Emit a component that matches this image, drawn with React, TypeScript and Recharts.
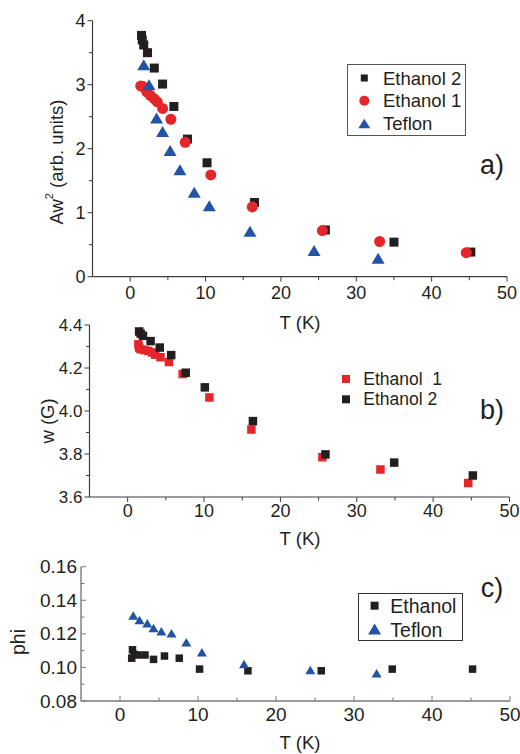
import React from 'react';
import { ScatterChart, Scatter, XAxis, YAxis, Legend, Label } from 'recharts';

// panel a) Aw^2 vs T
const eth2T = [1.5, 1.6, 1.8, 2.3, 3.2, 4.3, 5.8, 7.6, 10.2, 16.5, 25.9, 35.0, 45.2];
const eth2A = [3.77, 3.7, 3.62, 3.5, 3.26, 3.01, 2.66, 2.15, 1.78, 1.16, 0.73, 0.54, 0.385];
const eth1T = [1.4, 1.7, 2.2, 2.7, 3.2, 3.6, 4.3, 5.4, 7.3, 10.7, 16.2, 25.5, 33.1, 44.6];
const eth1A = [2.98, 2.97, 2.89, 2.83, 2.78, 2.73, 2.63, 2.46, 2.1, 1.59, 1.09, 0.72, 0.55, 0.375];
const teflonT = [1.8, 2.5, 3.5, 4.3, 5.3, 6.6, 8.5, 10.5, 15.9, 24.4, 32.9];
const teflonA = [3.31, 3.0, 2.48, 2.27, 1.97, 1.67, 1.32, 1.11, 0.71, 0.41, 0.29];

// panel b) linewidth w (G)
const wEth1T = [1.4, 1.5, 1.7, 2.2, 2.7, 3.2, 3.6, 4.3, 5.4, 7.2, 10.7, 16.2, 25.5, 33.1, 44.6];
const wEth1 = [4.31, 4.295, 4.287, 4.283, 4.279, 4.272, 4.262, 4.25, 4.228, 4.172, 4.063, 3.914, 3.785, 3.728, 3.665];
const wEth2T = [1.5, 1.7, 2.0, 3.0, 4.2, 5.7, 7.6, 10.1, 16.4, 25.9, 34.9, 45.2];
const wEth2 = [4.37, 4.36, 4.35, 4.325, 4.295, 4.26, 4.178, 4.11, 3.953, 3.798, 3.76, 3.7];

// panel c) phi
const phiEthT = [1.5, 1.6, 1.8, 2.3, 3.2, 4.3, 5.7, 7.6, 10.2, 16.4, 25.8, 34.9, 45.2];
const phiEth = [0.1055, 0.1105, 0.1078, 0.1074, 0.1074, 0.1048, 0.1068, 0.1055, 0.099, 0.098, 0.098, 0.099, 0.099];
const phiTefT = [1.7, 2.5, 3.5, 4.3, 5.3, 6.6, 8.5, 10.5, 15.9, 24.4, 32.9];
const phiTef = [0.131, 0.1283, 0.1263, 0.1235, 0.1215, 0.1203, 0.115, 0.109, 0.102, 0.0985, 0.0965];

const tTicks = [0, 5, 10, 15, 20, 25, 30, 35, 40, 45, 50];
const tLabels = [0, 10, 20, 30, 40, 50];
const aTicks = [0, 0.5, 1, 1.5, 2, 2.5, 3, 3.5, 4];
const aLabels = [0, 1, 2, 3, 4];
const wTicks = [3.6, 3.7, 3.8, 3.9, 4.0, 4.1, 4.2, 4.3, 4.4];
const wLabels = [3.6, 3.8, 4.0, 4.2, 4.4];
const phiTicks = [0.08, 0.09, 0.1, 0.11, 0.12, 0.13, 0.14, 0.15, 0.16];
const phiLabels = [0.08, 0.1, 0.12, 0.14, 0.16];

const legendA = ['Ethanol 2', 'Ethanol 1', 'Teflon'];
const legendB = ['Ethanol  1', 'Ethanol 2'];
const legendC = ['Ethanol', 'Teflon'];

const W = 520;
const H = 754;
const YW = 60; // y axis band width
const XH = 30; // x axis band height
const FONT = '"Liberation Sans", Arial, Helvetica, sans-serif';
const INK = '#231f20';
const AXIS = '#3c3c3c';
const AXIS_C = '#7a7a7a';
const RED = '#e4262b';
const BLUE = '#2353a4';

const pts = (xs: number[], ys: number[]) => xs.map((x, i) => ({ x, y: ys[i] }));

const square = (s: number, fill: string) => (p: any) => (
  <rect x={p.cx - s / 2} y={p.cy - s / 2} width={s} height={s} fill={fill} />
);
const circle = (r: number, fill: string) => (p: any) => <circle cx={p.cx} cy={p.cy} r={r} fill={fill} />;
const triangle = (w: number, h: number, fill: string) => (p: any) => (
  <polygon
    points={`${p.cx},${p.cy - h / 2} ${p.cx - w / 2},${p.cy + h / 2} ${p.cx + w / 2},${p.cy + h / 2}`}
    fill={fill}
  />
);

// dir = 1: ticks point out of the plot, -1: into the plot
const xTick = (labels: number[], gap: number, size: number, dir = 1, color = AXIS) => (p: any) => {
  const v = p.payload.value;
  const major = labels.includes(v);
  return (
    <g>
      <line x1={p.x} x2={p.x} y1={p.y} y2={p.y + dir * (major ? 5 : 3.5)} stroke={color} strokeWidth={1} />
      {major && (
        <text x={p.x} y={p.y + gap} textAnchor="middle" dominantBaseline="central" fontSize={size} fontFamily={FONT} fill={INK}>
          {v}
        </text>
      )}
    </g>
  );
};

const yTick = (labels: number[], digits: number, gap: number, size: number, dir = 1, color = AXIS) => (p: any) => {
  const v = p.payload.value;
  const major = labels.includes(v);
  return (
    <g>
      <line x1={p.x} x2={p.x - dir * (major ? 5 : 3.5)} y1={p.y} y2={p.y} stroke={color} strokeWidth={1} />
      {major && (
        <text x={p.x - gap} y={p.y} textAnchor="end" dominantBaseline="central" fontSize={size} fontFamily={FONT} fill={INK}>
          {v.toFixed(digits)}
        </text>
      )}
    </g>
  );
};

const txt = (x: number, y: number, s: string, size: number, rotate = false) => () => (
  <text
    x={x}
    y={y}
    transform={rotate ? `rotate(-90 ${x} ${y})` : undefined}
    textAnchor="middle"
    dominantBaseline="central"
    fontSize={size}
    fontFamily={FONT}
    fill={INK}
  >
    {s}
  </text>
);

const axisLine = { stroke: AXIS, strokeWidth: 1.2 };
const axisLineC = { stroke: AXIS_C, strokeWidth: 1.4 };

const legendAContent = () => (
  <svg width={120} height={72}>
    <rect x={0.5} y={0.5} width={118} height={71} fill="#fff" stroke="#555" />
    <rect x={13.8} y={10.5} width={7} height={7} fill={INK} />
    <circle cx={17.3} cy={36.7} r={5} fill={RED} />
    <polygon points="17.3,54.7 11.3,64.2 23.3,64.2" fill={BLUE} />
    {legendA.map((s, i) => (
      <text key={s} x={36} y={14 + i * 22.8} dominantBaseline="central" fontSize={18.5} fontFamily={FONT} fill={INK}>
        {s}
      </text>
    ))}
  </svg>
);

const legendBContent = () => (
  <svg width={120} height={42}>
    <rect x={4} y={7} width={8} height={8} fill={RED} />
    <rect x={4} y={27.3} width={8} height={8} fill={INK} />
    {legendB.map((s, i) => (
      <text key={s} x={25.3} y={11 + i * 20.3} dominantBaseline="central" fontSize={17.5} fontFamily={FONT} fill={INK} style={{ whiteSpace: 'pre' }}>
        {s}
      </text>
    ))}
  </svg>
);

const legendCContent = () => (
  <svg width={106} height={49}>
    <rect x={0.5} y={0.5} width={104} height={47} fill="#fff" stroke="#333" />
    <rect x={12.6} y={8.7} width={8} height={8} fill={INK} />
    <polygon points="16.6,30.5 10.1,41.5 23.1,41.5" fill={BLUE} />
    {legendC.map((s, i) => (
      <text key={s} x={32.3} y={12.7 + i * 24} dominantBaseline="central" fontSize={19.5} fontFamily={FONT} fill={INK}>
        {s}
      </text>
    ))}
  </svg>
);

const layer: React.CSSProperties = { position: 'absolute', left: 0, top: 0 };

// plot box (page pixels) -> chart margin, leaving room for the axis bands
const box = (left: number, top: number, right: number, bottom: number) => ({
  top,
  left: left - YW,
  right: W - right,
  bottom: H - bottom - XH,
});

export default function App() {
  return (
    <div style={{ position: 'absolute', left: 0, top: 0, width: W, height: H, background: '#fff' }}>
      <div style={layer}>
        <ScatterChart width={W} height={H} margin={box(92.5, 20.7, 507, 276.7)}>
          <XAxis type="number" dataKey="x" domain={[-5, 50]} ticks={tTicks} interval={0} allowDataOverflow height={XH}
            tickSize={0} tickMargin={0} tickLine={false} axisLine={axisLine} tick={xTick(tLabels, 16, 18)}
            label={{ content: txt(300, 322, 'T (K)', 18.5) }}>
            <Label content={txt(492, 165, 'a)', 27)} />
          </XAxis>
          <YAxis type="number" dataKey="y" domain={[0, 4]} ticks={aTicks} interval={0} allowDataOverflow width={YW}
            tickSize={0} tickMargin={0} tickLine={false} axisLine={axisLine} tick={yTick(aLabels, 0, 7, 18)}
            label={{
              content: () => (
                <text x={56} y={162} transform="rotate(-90 56 162)" textAnchor="middle" dominantBaseline="central"
                  fontSize={18.5} fontFamily={FONT} fill={INK}>
                  Aw<tspan dy={-7} fontSize={11}>2</tspan><tspan dy={7}> (arb. units)</tspan>
                </text>
              ),
            }} />
          <Legend layout="vertical" align="center" verticalAlign="middle" content={legendAContent}
            wrapperStyle={{ left: 346.7, top: 64.3, width: 120, height: 72, lineHeight: 0 }} />
          <Scatter name={legendA[0]} data={pts(eth2T, eth2A)} shape={square(9, INK)} isAnimationActive={false} />
          <Scatter name={legendA[1]} data={pts(eth1T, eth1A)} shape={circle(5.5, RED)} isAnimationActive={false} />
          <Scatter name={legendA[2]} data={pts(teflonT, teflonA)} shape={triangle(13, 11, BLUE)} isAnimationActive={false} />
        </ScatterChart>
      </div>

      <div style={layer}>
        <ScatterChart width={W} height={H} margin={box(89.5, 325, 509.5, 497)}>
          <XAxis type="number" dataKey="x" domain={[-5, 50]} ticks={tTicks} interval={0} allowDataOverflow height={XH}
            tickSize={0} tickMargin={0} tickLine={false} axisLine={axisLine} tick={xTick(tLabels, 14, 18)}
            label={{ content: txt(300, 538, 'T (K)', 18.5) }}>
            <Label content={txt(492, 410, 'b)', 27)} />
          </XAxis>
          <YAxis type="number" dataKey="y" domain={[3.6, 4.4]} ticks={wTicks} interval={0} allowDataOverflow width={YW}
            tickSize={0} tickMargin={0} tickLine={false} axisLine={axisLine} tick={yTick(wLabels, 1, 7, 17)}
            label={{ content: txt(47, 421, 'w (G)', 18.5, true) }} />
          <Legend layout="vertical" align="center" verticalAlign="middle" content={legendBContent}
            wrapperStyle={{ left: 338, top: 368, width: 120, height: 42, lineHeight: 0 }} />
          <Scatter name={legendB[0]} data={pts(wEth1T, wEth1)} shape={square(8.5, RED)} isAnimationActive={false} />
          <Scatter name={legendB[1]} data={pts(wEth2T, wEth2)} shape={square(8.5, INK)} isAnimationActive={false} />
        </ScatterChart>
      </div>

      <div style={layer}>
        <ScatterChart width={W} height={H} margin={box(81, 566.7, 510, 701)}>
          <XAxis type="number" dataKey="x" domain={[-5, 50]} ticks={tTicks} interval={0} allowDataOverflow height={XH}
            tickSize={0} tickMargin={0} tickLine={false} axisLine={axisLineC} tick={xTick(tLabels, 13, 19, -1, AXIS_C)}
            label={{ content: txt(300, 742, 'T (K)', 18.5) }}>
            <Label content={txt(492, 588, 'c)', 27)} />
          </XAxis>
          <YAxis type="number" dataKey="y" domain={[0.08, 0.16]} ticks={phiTicks} interval={0} allowDataOverflow width={YW}
            tickSize={0} tickMargin={0} tickLine={false} axisLine={axisLineC} tick={yTick(phiLabels, 2, 4, 19, -1, AXIS_C)}
            label={{ content: txt(18, 642, 'phi', 19.5, true) }} />
          <Legend layout="vertical" align="center" verticalAlign="middle" content={legendCContent}
            wrapperStyle={{ left: 357.7, top: 593.3, width: 106, height: 49, lineHeight: 0 }} />
          <Scatter name={legendC[0]} data={pts(phiEthT, phiEth)} shape={square(7.5, INK)} isAnimationActive={false} />
          <Scatter name={legendC[1]} data={pts(phiTefT, phiTef)} shape={triangle(10, 8.5, BLUE)} isAnimationActive={false} />
        </ScatterChart>
      </div>
    </div>
  );
}
